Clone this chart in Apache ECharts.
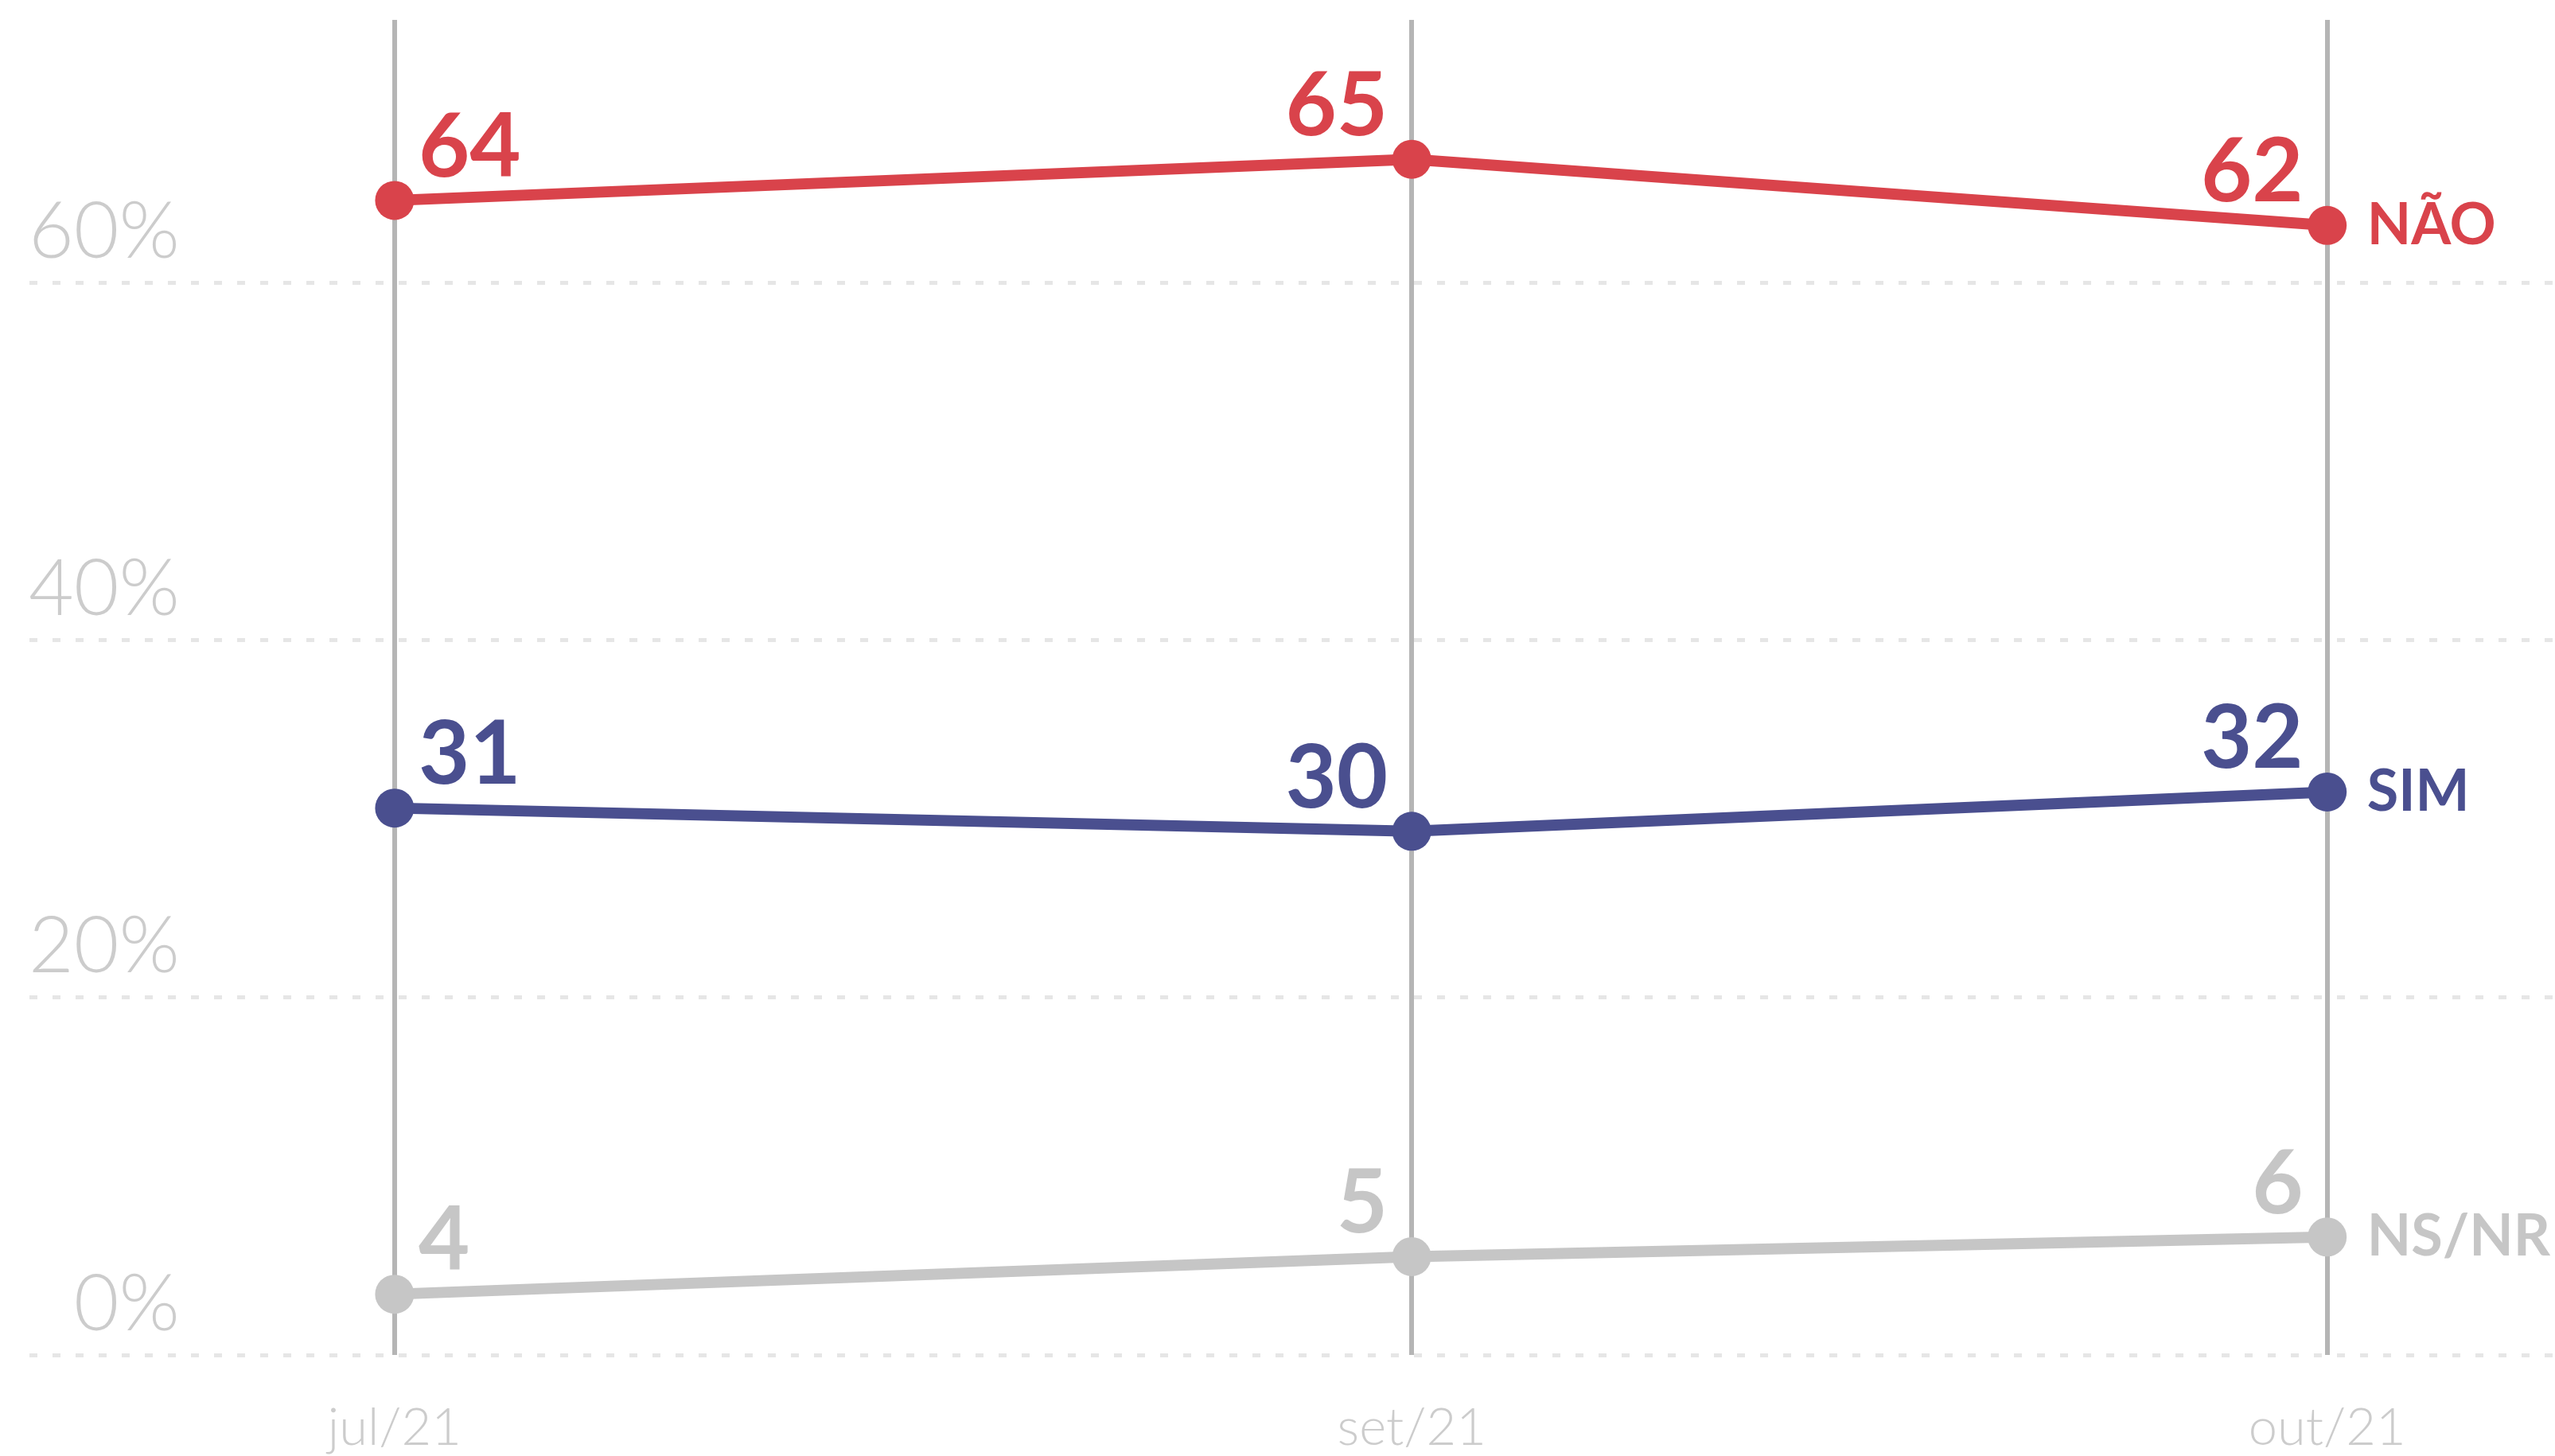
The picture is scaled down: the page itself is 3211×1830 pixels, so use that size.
<!DOCTYPE html>
<html>
<head>
<meta charset="utf-8">
<script src="https://cdn.jsdelivr.net/npm/echarts@6/dist/echarts.min.js"></script>
<style>
html, body { margin: 0; padding: 0; background: #fff; }
#chart { width: 3211px; height: 1830px; }
</style>
</head>
<body>
<div id="chart"></div>
<script>
// survey months, and where each sits along the time line
var months = ['jul/21', 'set/21', 'out/21'];
var monthPos = [0, 1, 1.9];
var yTicks = [0, 20, 40, 60];

// heights as drawn in the chart
var naoValues = [64.6, 66.9, 63.2];
var simValues = [30.6, 29.3, 31.5];
var nsValues = [3.4, 5.5, 6.6];

// numbers printed next to the points
var naoLabels = [64, 65, 62];
var simLabels = [31, 30, 32];
var nsLabels = [4, 5, 6];

var FONT = 'Lato';

function makeSeries(name, values, labels, color) {
	return {
		name: name,
		type: 'line',
		z: 5,
		symbol: 'circle',
		symbolSize: 49,
		lineStyle: { color: color, width: 14 },
		itemStyle: { color: color },
		data: values.map(function (v, i) {
			return {
				value: [monthPos[i], v],
				label: {
					align: i === 0 ? 'left' : 'right',
					offset: i === 0 ? [30, 14] : [-30, 14]
				}
			};
		}),
		label: {
			show: true,
			position: 'top',
			distance: 0,
			color: color,
			fontFamily: FONT,
			fontWeight: 'bold',
			fontSize: 111,
			lineHeight: 111,
			formatter: function (p) { return labels[p.dataIndex]; }
		},
		endLabel: {
			show: true,
			distance: 50,
			color: color,
			fontFamily: FONT,
			fontWeight: 'bold',
			fontSize: 72,
			formatter: name
		}
	};
}

var chart = echarts.init(document.getElementById('chart'));
chart.setOption({
	animation: false,
	backgroundColor: '#fff',
	grid: { left: 37, right: 0, top: 25, bottom: 127 },
	xAxis: {
		type: 'value',
		min: -0.359,
		max: 2.124,
		axisLine: { show: false },
		axisTick: { show: false },
		splitLine: { show: false },
		axisLabel: {
			customValues: monthPos,
			formatter: function (v) { return months[monthPos.indexOf(v)]; },
			margin: 60,
			color: '#cccccc',
			fontFamily: FONT,
			fontWeight: 300,
			fontSize: 65
		}
	},
	yAxis: {
		type: 'value',
		min: 0,
		max: 74.7,
		interval: 20,
		axisLine: { show: false },
		axisTick: { show: false },
		splitLine: {
			show: true,
			showMaxLine: false,
			lineStyle: { color: '#e6e6e6', width: 5, type: [10, 19] }
		},
		axisLabel: {
			inside: true,
			margin: 189,
			align: 'right',
			verticalAlign: 'bottom',
			showMaxLabel: false,
			padding: [0, 0, 14, 0],
			color: '#cccccc',
			fontFamily: FONT,
			fontWeight: 300,
			fontSize: 98,
			formatter: function (v) { return yTicks.indexOf(v) >= 0 ? v + '%' : ''; }
		}
	},
	series: [
		{
			// vertical month lines
			type: 'line',
			z: 1,
			data: [],
			silent: true,
			markLine: {
				silent: true,
				symbol: ['none', 'none'],
				label: { show: false },
				lineStyle: { color: '#b5b5b5', width: 6, type: 'solid' },
				data: monthPos.map(function (x) { return { xAxis: x }; })
			}
		},
		makeSeries('NS/NR', nsValues, nsLabels, '#c6c6c6'),
		makeSeries('SIM', simValues, simLabels, '#4a4f8f'),
		makeSeries('NÃO', naoValues, naoLabels, '#d9434b')
	]
});
</script>
</body>
</html>
